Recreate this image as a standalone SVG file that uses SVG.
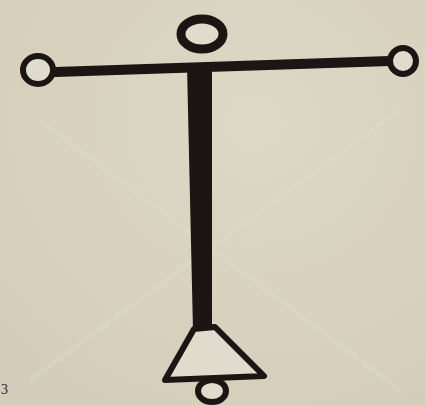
<svg xmlns="http://www.w3.org/2000/svg" width="425" height="405" viewBox="0 0 425 405">
  <defs>
    <style>
      .ink { stroke: #1b1613; fill: #e0dccd; stroke-linejoin: round; }
      .bar { stroke: #1b1613; stroke-linecap: round; fill: none; }
      .label { font-family: "Liberation Serif", serif; font-size: 14px; fill: #2a2420; }
    </style>
    <radialGradient id="pg" cx="0.6" cy="0.3" r="0.8">
      <stop offset="0" stop-color="#ddd8c6"/>
      <stop offset="1" stop-color="#d4cdb9"/>
    </radialGradient>
  </defs>
  <rect width="425" height="405" fill="url(#pg)"/>
  <g id="texture" stroke="#e4e0d2" stroke-width="5" opacity="0.3" fill="none">
    <line x1="40" y1="120" x2="400" y2="390"/>
    <line x1="400" y1="110" x2="30" y2="380"/>
  </g>
  <g id="connectors">
    <line class="bar" x1="55" y1="72" x2="390" y2="61" stroke-width="10"/>
    <polygon points="187,66 212,66 212,331 193,331" fill="#1b1613"/>
  </g>
  <g id="top-circle">
    <ellipse class="ink" cx="202" cy="34" rx="21" ry="15" stroke-width="9"/>
  </g>
  <g id="left-circle">
    <ellipse class="ink" cx="38" cy="70" rx="15" ry="14" stroke-width="6"/>
  </g>
  <g id="right-circle">
    <ellipse class="ink" cx="403" cy="61" rx="13" ry="13" stroke-width="6"/>
  </g>
  <g id="bottom-circle">
    <ellipse class="ink" cx="212" cy="391" rx="14" ry="11" stroke-width="6"/>
  </g>
  <g id="bell">
    <polygon class="ink" points="194,329 215,327 264,376 165,380" stroke-width="6"/>
  </g>
  <text class="label" x="1" y="394">3</text>
</svg>
